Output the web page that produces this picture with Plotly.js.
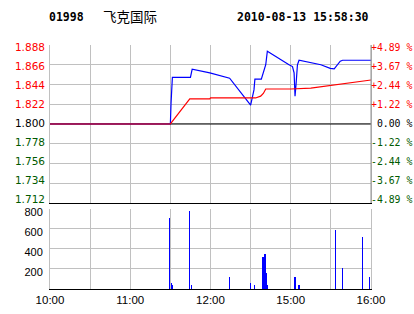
<!DOCTYPE html>
<html><head><meta charset="utf-8">
<script src="https://cdn.plot.ly/plotly-3.0.1.min.js"></script>
<style>html,body{margin:0;padding:0;background:#fff;}#chart{width:414px;height:314px;}</style>
</head><body><div id="chart"></div>
<script>
// ---- data (minutes since 10:00 on a trading-time axis; 12:30 joins 14:30) ----
var stockCode = "01998";
var stockName = "飞克国际";
var stamp = "2010-08-13 15:58:30";
var prevClose = 1.800;

var priceTimes = [0, 90, 90.5, 91.5, 105, 106.3, 119.5, 134.3, 150, 152.5, 153.2, 158, 161.3, 162.5, 178.7, 181.3, 182.5, 183.2, 184, 185, 186.2, 190, 195, 202.5, 209.5, 212.5, 217, 218.8, 240];
var priceVals  = [1.800, 1.800, 1.823, 1.852, 1.852, 1.861, 1.857, 1.851, 1.821, 1.838, 1.850, 1.850, 1.866, 1.881, 1.866, 1.864, 1.857, 1.831, 1.845, 1.866, 1.871, 1.870, 1.868, 1.866, 1.862, 1.8615, 1.870, 1.871, 1.871];

var avgTimes = [0, 90, 104.5, 119.5, 120, 153.7, 157.5, 159.5, 161.3, 180, 195, 204.8, 217.5, 230, 240];
var avgVals  = [1.800, 1.800, 1.828, 1.828, 1.829, 1.829, 1.831, 1.834, 1.839, 1.839, 1.840, 1.842, 1.844, 1.847, 1.849];

var volTimes = [89.5, 91, 91.7, 104.5, 105.8, 134.5, 150.2, 153.2, 159.2, 160.7, 161.5, 162.2, 182.5, 183.2, 186.2, 213.2, 218.5, 233.5, 238.7];
var volVals  = [710, 60, 40, 775, 40, 120, 60, 40, 315, 350, 160, 40, 60, 120, 40, 590, 210, 520, 120];

var timeTickVals = [0, 30, 60, 90, 120, 150, 180, 210, 240];
var timeTickText = ["10:00", "", "11:00", "", "12:00", "", "15:00", "", "16:00"];
var priceTickVals = [1.712, 1.734, 1.756, 1.778, 1.800, 1.822, 1.844, 1.866, 1.888];
var volTickVals = [200, 400, 600, 800];

// ---- derived tick texts ----
var RED = "#ff0000", GREEN = "#005a00", BLACK = "#000000";
function colFor(v){ return v > prevClose + 1e-9 ? RED : (v < prevClose - 1e-9 ? GREEN : BLACK); }
var priceTickText = priceTickVals.map(function(v){
  return '<span style="color:' + colFor(v) + '">' + v.toFixed(3) + '</span>';
});
var pctTickText = priceTickVals.map(function(v){
  var p = (v - prevClose) / prevClose * 100;
  var s = (p > 0.0001 ? "+" : (p < -0.0001 ? "-" : " ")) + Math.abs(p).toFixed(2) + " %";
  return '<span style="color:' + colFor(v) + '">' + s.replace(/ /g, "&nbsp;") + '</span>';
});

var GRID = "#c0c0c0";
var pMin = priceTickVals[0], pMax = priceTickVals[priceTickVals.length - 1];
// label axes: the reference sets its price labels slightly inside the frame
var padLo = (pMax - pMin) * 0.022, padHi = (pMax - pMin) * 0.016;
var labelRange = [pMin - padLo, pMax + padHi];

var traces = [
  {x: [0, 240], y: [prevClose, prevClose], xaxis: "x2", yaxis: "y", mode: "lines",
   line: {color: "#000000", width: 1.2}, hoverinfo: "skip", showlegend: false},
  {x: priceTimes, y: priceVals, xaxis: "x2", yaxis: "y", mode: "lines",
   line: {color: "#0000ff", width: 1.2}, showlegend: false},
  {x: avgTimes, y: avgVals, xaxis: "x2", yaxis: "y", mode: "lines",
   line: {color: "#ff0000", width: 1.2}, showlegend: false},
  {x: [0], y: [prevClose], xaxis: "x2", yaxis: "y3", mode: "lines",
   line: {color: "rgba(0,0,0,0)"}, hoverinfo: "skip", showlegend: false},
  {x: [0], y: [prevClose], xaxis: "x2", yaxis: "y4", mode: "lines",
   line: {color: "rgba(0,0,0,0)"}, hoverinfo: "skip", showlegend: false},
  {type: "bar", x: volTimes, y: volVals, xaxis: "x", yaxis: "y2", width: 0.85,
   marker: {color: "#0000ff", line: {width: 0}}, showlegend: false}
];

var layout = {
  width: 414, height: 314,
  margin: {l: 50, r: 43, t: 45, b: 25, pad: 0},
  paper_bgcolor: "#ffffff", plot_bgcolor: "#ffffff",
  showlegend: false, bargap: 0,
  xaxis: {domain: [0, 1], anchor: "y2", range: [0, 240], tickmode: "array",
    tickvals: timeTickVals, ticktext: timeTickText, ticks: "", showgrid: true, gridcolor: GRID, gridwidth: 1,
    showline: true, linecolor: "#000000", linewidth: 1, zeroline: false,
    tickfont: {family: "Liberation Sans", size: 11.5, color: "#000"}},
  xaxis2: {domain: [0, 1], anchor: "y", matches: "x", range: [0, 240], tickmode: "array",
    tickvals: timeTickVals, showticklabels: false, ticks: "", showgrid: true, gridcolor: GRID,
    showline: true, linecolor: "#000000", linewidth: 1, zeroline: false},
  yaxis: {domain: [0.3525, 1], anchor: "x2", range: [pMin, pMax], tickmode: "array",
    tickvals: priceTickVals, showticklabels: false, ticks: "", showgrid: true, gridcolor: GRID,
    showline: true, linecolor: GRID, mirror: true, zeroline: false},
  yaxis4: {overlaying: "y", anchor: "x2", side: "left", range: labelRange, tickmode: "array",
    tickvals: priceTickVals, ticktext: priceTickText, ticks: "", showgrid: false, showline: false,
    zeroline: false, ticklabelstandoff: 4,
    tickfont: {family: "DejaVu Sans", size: 10.5, color: "#000"}},
  yaxis3: {overlaying: "y", anchor: "x2", side: "right", range: labelRange, tickmode: "array",
    tickvals: priceTickVals, ticktext: pctTickText, ticks: "", showgrid: false, showline: false,
    zeroline: false, ticklabelstandoff: -1,
    tickfont: {family: "DejaVu Sans Mono", size: 9.8, color: "#000"}},
  yaxis2: {domain: [0, 0.328], anchor: "x", range: [0, 800], tickmode: "array",
    tickvals: volTickVals, ticks: "", showgrid: true, gridcolor: GRID,
    showline: true, linecolor: GRID, mirror: true, zeroline: false, ticklabelstandoff: 4,
    ticklabelshift: 3,
    tickfont: {family: "Liberation Sans", size: 11, color: "#000"}},
  shapes: [
    {type: "line", xref: "paper", yref: "paper", x0: 1, x1: 1, y0: 0.3525, y1: 1,
     line: {color: "#909090", width: 1}}
  ],
  annotations: [
    {xref: "paper", yref: "paper", x: -0.01, y: 1.115, xanchor: "left", yanchor: "middle", showarrow: false,
     text: "<b>" + stockCode + "</b>", font: {family: "DejaVu Sans Mono", size: 11.5, color: "#000"}},
    {xref: "paper", yref: "paper", x: 0.16, y: 1.12, xanchor: "left", yanchor: "middle", showarrow: false,
     text: stockName, font: {family: "Noto Sans CJK SC", size: 13.5, color: "#000"}},
    {xref: "paper", yref: "paper", x: 1.0, y: 1.115, xanchor: "right", yanchor: "middle", showarrow: false,
     text: "<b>" + stamp + "</b>", font: {family: "DejaVu Sans Mono", size: 11.5, color: "#000"}}
  ]
};

Plotly.newPlot("chart", traces, layout, {displayModeBar: false, staticPlot: true});
</script></body></html>
